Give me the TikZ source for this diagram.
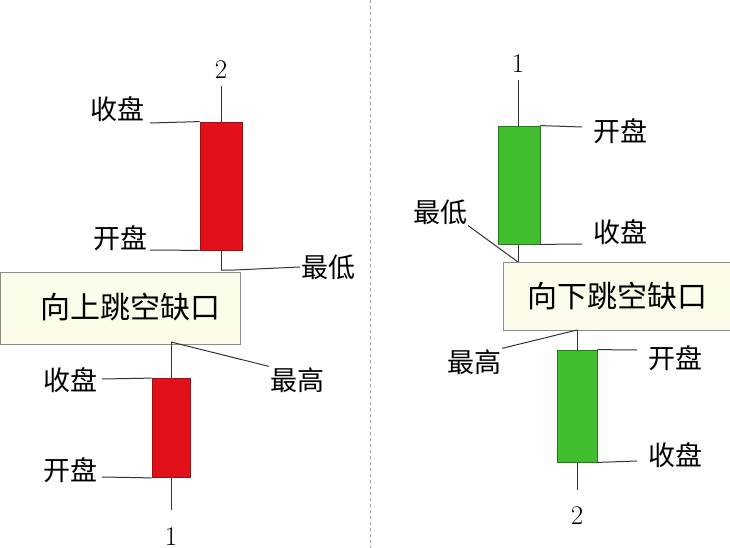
\documentclass[tikz,border=0pt]{standalone}
\usepackage{fontspec}
\newfontfamily\cjk{Noto Sans CJK SC}
\begin{document}
\begin{tikzpicture}[x=1pt,y=-1pt,
  lbl/.style={font=\cjk\fontsize{27}{29}\selectfont,inner sep=1pt},
  boxt/.style={font=\cjk\fontsize{30}{32}\selectfont,inner sep=1pt},
  num/.style={font=\fontsize{27}{29}\selectfont,inner sep=1pt},
  ln/.style={line width=1pt,black!80},
  redbody/.style={fill={rgb,255:red,226;green,16;blue,26},draw={rgb,255:red,150;green,20;blue,20},line width=0.8pt},
  greenbody/.style={fill={rgb,255:red,64;green,190;blue,46},draw={rgb,255:red,40;green,120;blue,30},line width=0.8pt},
  gapbox/.style={fill={rgb,255:red,253;green,251;blue,234},draw=black!45,line width=0.8pt}]
\useasboundingbox[fill=white] (0,0) rectangle (730,548);
\draw[black!40,dashed,line width=0.8pt] (370,0) -- (370,548);
% Left upper candle
\node[num] (n2a) at (221,70) {2};
\coordinate (lt1) at (221,86);
\coordinate (lb1) at (221,270);
\draw[ln] (lt1) -- (lb1);
\node[redbody,minimum width=42pt,minimum height=128pt,inner sep=0] (rb1) at (221,186) {};
\node[lbl] (lsp1) at (117,109) {收盘};
\node[lbl] (lkp1) at (120,238) {开盘};
\coordinate (c1) at (150,123);
\coordinate (c2) at (150,250);
\draw[ln] (c1) -- (rb1.north west);
\draw[ln] (c2) -- (rb1.south west);
\node[lbl] (lzd) at (328,267) {最低};
\draw[ln] (lb1) -- (235,270) -- (lzd.west);
% Left box
\node[gapbox,minimum width=240pt,minimum height=72pt,inner sep=0] (box1) at (120,308) {};
\node[boxt] at (130,307) {向上跳空缺口};
% Left lower candle
\coordinate (lt2) at (171,342);
\coordinate (lb2) at (171,510);
\draw[ln] (lt2) -- (lb2);
\node[redbody,minimum width=38pt,minimum height=99pt,inner sep=0] (rb2) at (171,428) {};
\node[num] (n1a) at (171,537) {1};
\node[lbl] (lzg) at (297,380) {最高};
\draw[ln] (lt2) -- (lzg.north west);
\node[lbl] (lsp2) at (70,380) {收盘};
\node[lbl] (lkp2) at (70,470) {开盘};
\coordinate (c3) at (102,379);
\coordinate (c4) at (102,477);
\draw[ln] (c3) -- (rb2.north west);
\draw[ln] (c4) -- (rb2.south west);
% Right upper candle
\node[num] (n1b) at (518,64) {1};
\coordinate (rt1) at (518,80);
\coordinate (rbt1) at (518,262);
\draw[ln] (rt1) -- (rbt1);
\node[greenbody,minimum width=42pt,minimum height=118pt,inner sep=0] (gb1) at (519,185) {};
\node[lbl] (rkp1) at (620,131) {开盘};
\node[lbl] (rsp1) at (620,232) {收盘};
\coordinate (c5) at (582,127);
\coordinate (c6) at (582,244);
\draw[ln] (gb1.north east) -- (c5);
\draw[ln] (gb1.south east) -- (c6);
\node[lbl] (rzd) at (440,212) {最低};
\draw[ln] (rzd.south east) -- (rbt1);
% Right box
\node[gapbox,minimum width=228pt,minimum height=68pt,inner sep=0] (box2) at (617,296) {};
\node[boxt] at (617,296) {向下跳空缺口};
% Right lower candle
\coordinate (rt2) at (577,330);
\coordinate (rbt2) at (577,490);
\draw[ln] (rt2) -- (rbt2);
\node[greenbody,minimum width=40pt,minimum height=112pt,inner sep=0] (gb2) at (577,406) {};
\node[num] (n2b) at (577,516) {2};
\node[lbl] (rzg) at (474,362) {最高};
\draw[ln] (rzg.north east) -- (rt2);
\node[lbl] (rkp2) at (675,358) {开盘};
\node[lbl] (rsp2) at (675,455) {收盘};
\coordinate (c7) at (637,350);
\coordinate (c8) at (637,461);
\draw[ln] (gb2.north east) -- (c7);
\draw[ln] (gb2.south east) -- (c8);
\end{tikzpicture}
\end{document}
